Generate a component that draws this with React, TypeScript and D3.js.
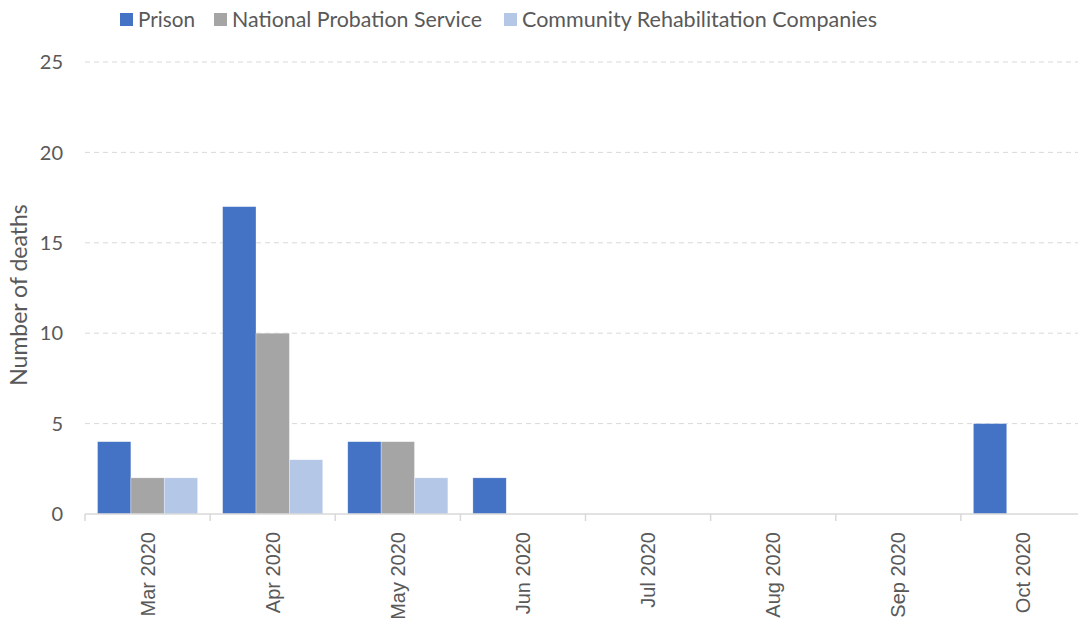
import React from "react";
import * as d3 from "d3";

const categories = ["Mar 2020", "Apr 2020", "May 2020", "Jun 2020", "Jul 2020", "Aug 2020", "Sep 2020", "Oct 2020"];
const seriesNames = ["Prison", "National Probation Service", "Community Rehabilitation Companies"];
const prison = [4, 17, 4, 2, 0, 0, 0, 5];
const probation = [2, 10, 4, 0, 0, 0, 0, 0];
const crc = [2, 3, 2, 0, 0, 0, 0, 0];
const yTicks = [0, 5, 10, 15, 20, 25];
const colors = ["#4472C4", "#A5A5A5", "#B4C7E7"];
const legendX = [120, 214, 504];
const legendW = [57, 250, 355];

const W = 1078, H = 624;
const left = 85, right = 1086, top = 62, bottom = 514;
const font = "Lato, 'Open Sans', sans-serif";
const xFont = "'Liberation Sans', Arial, sans-serif";
const textColor = "#595959";

export default function App() {
  const series = [prison, probation, crc];
  const x = d3.scaleBand<string>().domain(categories).range([left, right]).paddingInner(0.2).paddingOuter(0.1);
  const x1 = d3.scaleBand<number>().domain([0, 1, 2]).range([0, x.bandwidth()]);
  const y = d3.scaleLinear().domain([0, 25]).range([bottom, top]);
  const step = x.step();
  const boundaries = d3.range(categories.length + 1).map((i) => left + i * step);
  return (
    <svg width={W} height={H} style={{ position: "absolute", left: 0, top: 0, background: "#fff" }}>
      {yTicks.filter((t) => t > 0).map((t) => (
        <line key={t} x1={left} x2={W} y1={y(t)} y2={y(t)} stroke="#d9d9d9" strokeWidth={1} strokeDasharray="5,4" />
      ))}
      {yTicks.map((t) => (
        <text key={t} x={63} y={y(t)} dy="0.36em" textAnchor="end" fontFamily={font} fontSize={20} fill={textColor}>{t}</text>
      ))}
      <text transform={`translate(27,295) rotate(-90)`} textAnchor="middle" fontFamily={font} fontSize={23} fill={textColor}>Number of deaths</text>
      {series.map((vals, si) =>
        categories.map((c, ci) => {
          const v = vals[ci];
          if (!v) return null;
          const bx = (x(c) as number) + (x1(si) as number);
          return <rect key={`${si}-${ci}`} x={bx} y={y(v)} width={x1.bandwidth()} height={y(0) - y(v)} fill={colors[si]} stroke="#ffffff" strokeOpacity={0.5} strokeWidth={0.6} />;
        })
      )}
      <line x1={left} x2={W} y1={bottom} y2={bottom} stroke="#d9d9d9" strokeWidth={1.5} />
      {boundaries.map((bx, i) => (
        <line key={i} x1={bx} x2={bx} y1={bottom} y2={bottom + 7} stroke="#d9d9d9" strokeWidth={1.5} />
      ))}
      {categories.map((c) => (
        <text key={c} transform={`translate(${(x(c) as number) + x.bandwidth() / 2 + 7},532) rotate(-90)`} textAnchor="end" fontFamily={xFont} fontSize={20} fill={textColor}>{c}</text>
      ))}
      {seriesNames.map((n, i) => (
        <g key={n}>
          <rect x={legendX[i]} y={13} width={13} height={13} fill={colors[i]} />
          <text x={legendX[i] + 18} y={27} fontFamily={font} fontSize={21} fill={textColor} textLength={legendW[i]} lengthAdjust="spacingAndGlyphs">{n}</text>
        </g>
      ))}
    </svg>
  );
}
